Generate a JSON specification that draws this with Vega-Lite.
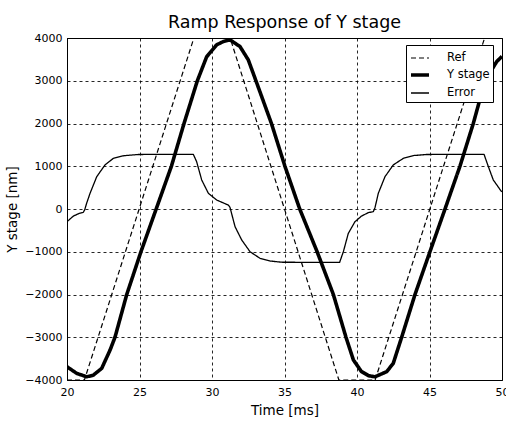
{
  "$schema": "https://vega.github.io/schema/vega-lite/v6.json",
  "width": 435,
  "height": 342,
  "autosize": {"type": "none"},
  "padding": {"left": 67, "top": 38, "right": 4, "bottom": 41},
  "background": "white",
  "title": {
    "text": "Ramp Response of Y stage",
    "font": "DejaVu Sans",
    "fontSize": 17.5,
    "fontWeight": "normal",
    "color": "#000",
    "anchor": "middle",
    "frame": "group",
    "baseline": "alphabetic",
    "offset": 11,
    "dy": 24
  },
  "config": {
    "view": {"stroke": "#000", "strokeWidth": 1},
    "axis": {
      "labelFont": "DejaVu Sans",
      "labelFontSize": 11,
      "labelColor": "#000",
      "titleFont": "DejaVu Sans",
      "titleFontSize": 13.5,
      "titleFontWeight": "normal",
      "titleColor": "#000",
      "domainColor": "#000",
      "ticks": false,
      "grid": true,
      "gridColor": "#000",
      "gridDash": [3, 3],
      "gridOpacity": 0.85,
      "gridWidth": 1
    },
    "legend": {
      "orient": "none",
      "legendX": 339,
      "legendY": 7,
      "fillColor": "white",
      "strokeColor": "#000",
      "padding": 3,
      "symbolType": "stroke",
      "symbolSize": 324,
      "symbolStrokeColor": "#000",
      "labelFont": "DejaVu Sans",
      "labelFontSize": 11.5,
      "labelColor": "#000",
      "labelOffset": 16,
      "rowPadding": 0
    }
  },
  "data": {
    "values": [
      {"series": "Ref", "t": 20, "v": -4000},
      {"series": "Ref", "t": 21.2, "v": -4000},
      {"series": "Ref", "t": 28.75, "v": 4000},
      {"series": "Ref", "t": 31.25, "v": 4000},
      {"series": "Ref", "t": 38.75, "v": -4000},
      {"series": "Ref", "t": 41.25, "v": -4000},
      {"series": "Ref", "t": 48.8, "v": 4000},
      {"series": "Ref", "t": 50, "v": 4000},

      {"series": "Y stage", "t": 20, "v": -3690},
      {"series": "Y stage", "t": 20.67, "v": -3845},
      {"series": "Y stage", "t": 21.36, "v": -3925},
      {"series": "Y stage", "t": 21.82, "v": -3885},
      {"series": "Y stage", "t": 22.39, "v": -3730},
      {"series": "Y stage", "t": 22.97, "v": -3300},
      {"series": "Y stage", "t": 23.31, "v": -3000},
      {"series": "Y stage", "t": 24.12, "v": -2000},
      {"series": "Y stage", "t": 25.1, "v": -1000},
      {"series": "Y stage", "t": 26.15, "v": 0},
      {"series": "Y stage", "t": 27.2, "v": 1000},
      {"series": "Y stage", "t": 28.07, "v": 2000},
      {"series": "Y stage", "t": 28.99, "v": 3000},
      {"series": "Y stage", "t": 29.63, "v": 3560},
      {"series": "Y stage", "t": 30.32, "v": 3840},
      {"series": "Y stage", "t": 30.8, "v": 3920},
      {"series": "Y stage", "t": 31.25, "v": 3955},
      {"series": "Y stage", "t": 31.93, "v": 3800},
      {"series": "Y stage", "t": 32.5, "v": 3490},
      {"series": "Y stage", "t": 33.03, "v": 3000},
      {"series": "Y stage", "t": 34.1, "v": 2000},
      {"series": "Y stage", "t": 35.03, "v": 1000},
      {"series": "Y stage", "t": 36.05, "v": 0},
      {"series": "Y stage", "t": 37.25, "v": -1000},
      {"series": "Y stage", "t": 38.37, "v": -2000},
      {"series": "Y stage", "t": 39.24, "v": -3000},
      {"series": "Y stage", "t": 39.75, "v": -3530},
      {"series": "Y stage", "t": 40.3, "v": -3800},
      {"series": "Y stage", "t": 40.8, "v": -3900},
      {"series": "Y stage", "t": 41.24, "v": -3925},
      {"series": "Y stage", "t": 42.05, "v": -3805},
      {"series": "Y stage", "t": 42.5, "v": -3610},
      {"series": "Y stage", "t": 43.08, "v": -3000},
      {"series": "Y stage", "t": 44.0, "v": -2000},
      {"series": "Y stage", "t": 45.03, "v": -1000},
      {"series": "Y stage", "t": 46.07, "v": 0},
      {"series": "Y stage", "t": 47.1, "v": 1000},
      {"series": "Y stage", "t": 48.02, "v": 2000},
      {"series": "Y stage", "t": 48.83, "v": 3000},
      {"series": "Y stage", "t": 49.64, "v": 3450},
      {"series": "Y stage", "t": 50, "v": 3570},

      {"series": "Error", "t": 20, "v": -297},
      {"series": "Error", "t": 20.44, "v": -165},
      {"series": "Error", "t": 20.8, "v": -110},
      {"series": "Error", "t": 21.13, "v": -75},
      {"series": "Error", "t": 21.22, "v": -20},
      {"series": "Error", "t": 21.36, "v": 140},
      {"series": "Error", "t": 21.59, "v": 367},
      {"series": "Error", "t": 22.05, "v": 756},
      {"series": "Error", "t": 22.62, "v": 1030},
      {"series": "Error", "t": 23.2, "v": 1186},
      {"series": "Error", "t": 23.88, "v": 1245},
      {"series": "Error", "t": 24.9, "v": 1275},
      {"series": "Error", "t": 28.71, "v": 1280},
      {"series": "Error", "t": 28.94, "v": 1107},
      {"series": "Error", "t": 29.29, "v": 679},
      {"series": "Error", "t": 29.75, "v": 367},
      {"series": "Error", "t": 30.32, "v": 210},
      {"series": "Error", "t": 30.8, "v": 140},
      {"series": "Error", "t": 31.13, "v": 90},
      {"series": "Error", "t": 31.24, "v": 40},
      {"series": "Error", "t": 31.59, "v": -414},
      {"series": "Error", "t": 32.05, "v": -725},
      {"series": "Error", "t": 32.62, "v": -998},
      {"series": "Error", "t": 33.31, "v": -1153},
      {"series": "Error", "t": 34.0, "v": -1216},
      {"series": "Error", "t": 34.8, "v": -1245},
      {"series": "Error", "t": 38.8, "v": -1250},
      {"series": "Error", "t": 39.06, "v": -998},
      {"series": "Error", "t": 39.4, "v": -570},
      {"series": "Error", "t": 39.86, "v": -297},
      {"series": "Error", "t": 40.32, "v": -163},
      {"series": "Error", "t": 40.78, "v": -86},
      {"series": "Error", "t": 41.13, "v": -60},
      {"series": "Error", "t": 41.24, "v": 30},
      {"series": "Error", "t": 41.47, "v": 367},
      {"series": "Error", "t": 41.93, "v": 756},
      {"series": "Error", "t": 42.5, "v": 1030},
      {"series": "Error", "t": 43.2, "v": 1186},
      {"series": "Error", "t": 43.88, "v": 1250},
      {"series": "Error", "t": 44.8, "v": 1275},
      {"series": "Error", "t": 48.76, "v": 1280},
      {"series": "Error", "t": 49.06, "v": 990},
      {"series": "Error", "t": 49.4, "v": 679},
      {"series": "Error", "t": 49.98, "v": 400}
    ]
  },
  "mark": {"type": "line", "color": "#000", "clip": true, "strokeJoin": "round"},
  "encoding": {
    "x": {
      "field": "t",
      "type": "quantitative",
      "title": "Time [ms]",
      "scale": {"domain": [20, 50], "nice": false, "zero": false},
      "axis": {"values": [20, 25, 30, 35, 40, 45, 50], "labelPadding": 6, "titlePadding": 6, "labelFlush": false}
    },
    "y": {
      "field": "v",
      "type": "quantitative",
      "title": "Y stage [nm]",
      "scale": {"domain": [-4000, 4000], "nice": false},
      "axis": {"values": [-4000, -3000, -2000, -1000, 0, 1000, 2000, 3000, 4000], "format": "d", "labelPadding": 5, "titlePadding": 5}
    },
    "strokeDash": {
      "field": "series",
      "type": "nominal",
      "scale": {"domain": ["Ref", "Y stage", "Error"], "range": [[5, 3], [1, 0], [1, 0]]},
      "legend": {"title": null}
    },
    "strokeWidth": {
      "field": "series",
      "type": "nominal",
      "scale": {"type": "ordinal", "domain": ["Ref", "Y stage", "Error"], "range": [1.2, 3.6, 1.3]},
      "legend": {"title": null}
    }
  }
}
